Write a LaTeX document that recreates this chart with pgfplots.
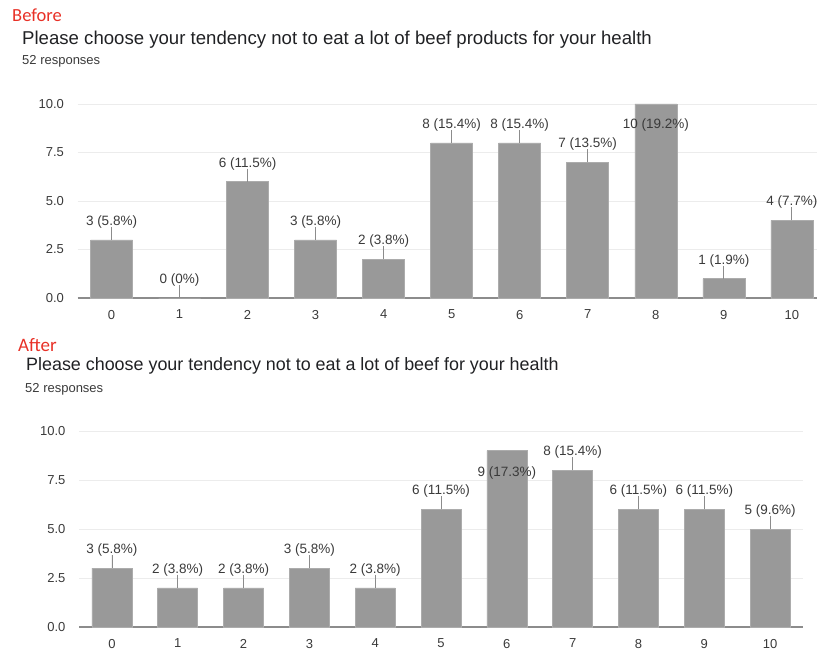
\documentclass[border=0pt]{standalone}
\usepackage{pgfplots}
\pgfplotsset{compat=1.18}
\usepackage{pgfplotstable}
\usepackage{fontspec}
\setmainfont{Liberation Sans}
\newfontfamily\redfont{Carlito}
\definecolor{barc}{RGB}{153,153,153}
\definecolor{baredge}{RGB}{172,172,172}
\definecolor{gridc}{RGB}{236,236,236}
\definecolor{basec}{RGB}{140,140,140}
\definecolor{txtc}{RGB}{58,58,58}
\definecolor{titlec}{RGB}{32,33,36}
\definecolor{redc}{RGB}{232,48,38}

\pgfplotstableread[col sep=comma]{
x,y,err,dy,label
0,3,0.67,14.5,3 (5.8\%)
1,0,0.67,14.5,0 (0\%)
2,6,0.67,14.5,6 (11.5\%)
3,3,0.67,14.5,3 (5.8\%)
4,2,0.67,14.5,2 (3.8\%)
5,8,0.67,14.5,8 (15.4\%)
6,8,0.67,14.5,8 (15.4\%)
7,7,0.67,14.5,7 (13.5\%)
8,10,0,-24.7,10 (19.2\%)
9,1,0.67,14.5,1 (1.9\%)
10,4,0.67,14.5,4 (7.7\%)
}\before

\pgfplotstableread[col sep=comma]{
x,y,err,dy,label
0,3,0.67,14.5,3 (5.8\%)
1,2,0.67,14.5,2 (3.8\%)
2,2,0.67,14.5,2 (3.8\%)
3,3,0.67,14.5,3 (5.8\%)
4,2,0.67,14.5,2 (3.8\%)
5,6,0.67,14.5,6 (11.5\%)
6,9,0,-26,9 (17.3\%)
7,8,0.67,14.5,8 (15.4\%)
8,6,0.67,14.5,6 (11.5\%)
9,6,0.67,14.5,6 (11.5\%)
10,5,0.67,14.5,5 (9.6\%)
}\after

\pgfplotsset{
  formchart/.style={
    scale only axis,
    ybar, bar shift=0pt,
    ymin=0, ymax=10,
    ytick={0,2.5,5,7.5,10},
    xtick={0,...,10},
    axis line style={draw=none},
    major tick length=0pt,
    ymajorgrids,
    grid style={gridc, line width=0.8pt},
    extra y ticks={0},
    extra y tick labels={},
    extra y tick style={grid style={basec, line width=1.6pt}},
    /pgf/number format/assume math mode=true,
    tick label style={font=\fontsize{13}{15}\selectfont, text=txtc},
    yticklabel style={/pgf/number format/fixed, /pgf/number format/fixed zerofill, /pgf/number format/precision=1, xshift=-10pt},
    xticklabel style={yshift=-8.5pt},
    point meta=explicit symbolic,
    nodes near coords,
    visualization depends on={\thisrow{dy}\as\dy},
    every node near coord/.append style={anchor=base, inner sep=0pt, yshift=\dy pt, font=\fontsize{13.5}{15}\selectfont, text=txtc},
    clip=false,
  },
  formbar/.style={
    fill=barc, draw=baredge, line width=0.5pt,
    error bars/.cd, y dir=plus, y explicit, error mark=none,
    error bar style={basec, line width=0.7pt},
  },
}

\begin{document}
\begin{tikzpicture}
\path[use as bounding box] (0,0) rectangle (819pt,651pt);

\node[anchor=base west, inner sep=0pt, text=redc, font=\redfont\fontsize{18.5}{20}\selectfont] at (12pt,629pt) {Before};
\node[anchor=base west, inner sep=0pt, text=titlec, font=\fontsize{18.6}{20}\selectfont] at (22pt,606pt) {Please choose your tendency not to eat a lot of beef products for your health};
\node[anchor=base west, inner sep=0pt, text=txtc, font=\fontsize{13}{15}\selectfont] at (22pt,586pt) {52 responses};

\begin{axis}[formchart, width=739.5pt, height=194pt, bar width=42pt,
  xmin=-0.5, xmax=10.37, at={(77.5pt,353pt)}, anchor=south west]
\addplot[formbar] table[x=x, y=y, y error=err, meta=label] {\before};
\end{axis}

\node[anchor=base west, inner sep=0pt, text=redc, font=\redfont\fontsize{19}{21}\selectfont] at (18pt,299pt) {After};
\node[anchor=base west, inner sep=0pt, text=titlec, font=\fontsize{17.9}{20}\selectfont] at (26pt,280pt) {Please choose your tendency not to eat a lot of beef for your health};
\node[anchor=base west, inner sep=0pt, text=txtc, font=\fontsize{13}{15}\selectfont] at (25pt,258pt) {52 responses};

\begin{axis}[formchart, width=724pt, height=196pt, bar width=40pt,
  xmin=-0.5, xmax=10.5, at={(79pt,24pt)}, anchor=south west]
\addplot[formbar] table[x=x, y=y, y error=err, meta=label] {\after};
\end{axis}
\end{tikzpicture}
\end{document}
